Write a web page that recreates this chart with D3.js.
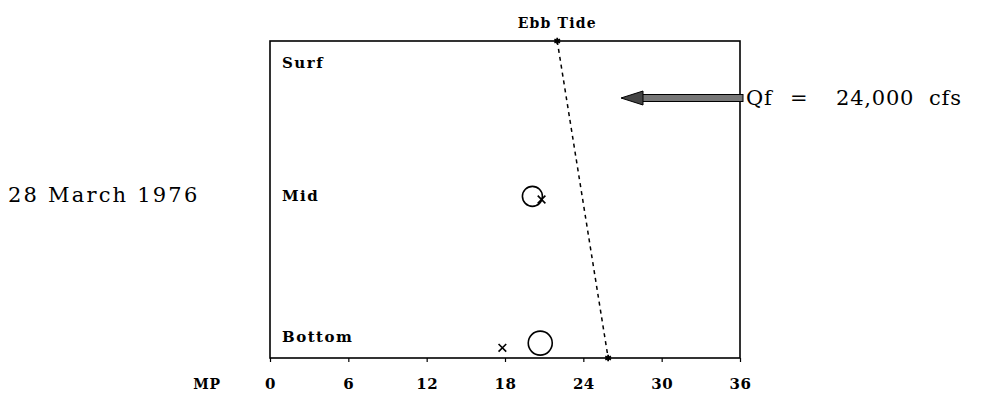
<!DOCTYPE html>
<html><head><meta charset="utf-8">
<script src="https://cdn.jsdelivr.net/npm/d3@7"></script>
<style>body{margin:0;background:#fff}</style>
</head><body>
<svg id="c" width="982" height="395"></svg>
<script>
const xTicks = [0, 6, 12, 18, 24, 30, 36];
const depthLabels = ["Surf", "Mid", "Bottom"];
const depthPos = [0.07, 0.49, 0.935];
// observed points: circles and crosses (MP, relative depth)
const circleMP = [20.1, 20.7];
const circleDepth = [0.49, 0.953];
const crossMP = [20.8, 17.8];
const crossDepth = [0.50, 0.968];
// ebb tide front line (MP at surface, MP at bottom)
const ebbMP = [22.0, 25.9];
const ebbDepth = [0, 1];

const svg = d3.select("#c");
const x = d3.scaleLinear().domain([0, 36]).range([270, 740]);
const y = d3.scaleLinear().domain([0, 1]).range([41, 358]);
const serif = "'DejaVu Serif', 'Liberation Serif', serif";

// frame
svg.append("rect").attr("x", x(0)).attr("y", y(0)).attr("width", x(36) - x(0)).attr("height", y(1) - y(0))
  .attr("fill", "none").attr("stroke", "#000").attr("stroke-width", 1.6);

// x axis
const ax = svg.append("g").attr("transform", `translate(0,${y(1)})`)
  .call(d3.axisBottom(x).tickValues(xTicks).tickSize(4).tickPadding(16).tickFormat(d3.format("d")));
ax.select(".domain").remove();
ax.selectAll("line").attr("stroke", "#000").attr("stroke-width", 1.2);
ax.selectAll("text").attr("font-family", serif).attr("font-weight", "bold").attr("font-size", 15)
  .attr("letter-spacing", 0.5).attr("fill", "#000");
svg.append("text").attr("x", 207).attr("y", 389).attr("text-anchor", "middle")
  .attr("font-family", serif).attr("font-weight", "bold").attr("font-size", 14).attr("letter-spacing", 0.8).text("MP");

// depth labels
svg.selectAll(".dl").data(depthLabels).join("text")
  .attr("x", x(0) + 12).attr("y", (d, i) => y(depthPos[i]) + 5)
  .attr("font-family", serif).attr("font-weight", "bold").attr("font-size", 15).attr("letter-spacing", 1.5).text(d => d);

// ebb tide line
svg.append("line").attr("x1", x(ebbMP[0])).attr("y1", y(ebbDepth[0])).attr("x2", x(ebbMP[1])).attr("y2", y(ebbDepth[1]))
  .attr("stroke", "#000").attr("stroke-width", 1.5).attr("stroke-dasharray", "4,4");
svg.selectAll(".ebbpt").data(ebbMP).join("path")
  .attr("d", d3.symbol(d3.symbolAsterisk, 30))
  .attr("transform", (d, i) => `translate(${x(d)},${y(ebbDepth[i])})`)
  .attr("stroke", "#000").attr("stroke-width", 1.8).attr("fill", "none");
svg.append("text").attr("x", x(ebbMP[0])).attr("y", 28).attr("text-anchor", "middle")
  .attr("font-family", serif).attr("font-weight", "bold").attr("font-size", 14).attr("letter-spacing", 1.2).text("Ebb Tide");

// circles
const radii = [10, 12];
svg.selectAll(".circ").data(circleMP).join("circle")
  .attr("cx", d => x(d)).attr("cy", (d, i) => y(circleDepth[i])).attr("r", (d, i) => radii[i])
  .attr("fill", "none").attr("stroke", "#000").attr("stroke-width", 1.6);
// crosses
svg.selectAll(".cross").data(crossMP).join("path")
  .attr("d", d3.symbol(d3.symbolTimes, 40))
  .attr("transform", (d, i) => `translate(${x(d)},${y(crossDepth[i])})`)
  .attr("fill", "none").attr("stroke", "#000").attr("stroke-width", 1.6);

// left title
svg.append("text").attr("x", 8).attr("y", 202).attr("font-family", serif).attr("font-size", 21)
  .attr("letter-spacing", 2.2).text("28 March 1976");

// Qf arrow
const ay = 98;
svg.append("rect").attr("x", 640).attr("y", ay - 3.5).attr("width", 103).attr("height", 7)
  .attr("fill", "#777").attr("stroke", "#000").attr("stroke-width", 1);
svg.append("path").attr("d", `M621,${ay} L643,${ay - 7} L643,${ay + 7} Z`).attr("fill", "#444").attr("stroke", "#000");
const qParts = ["Qf", "=", "24,000", "cfs"];
const qX = [746, 790, 836, 929];
svg.selectAll(".q").data(qParts).join("text")
  .attr("x", (d, i) => qX[i]).attr("y", ay + 7).attr("font-family", serif).attr("font-size", 21)
  .attr("letter-spacing", 0.8).text(d => d);
</script>
</body></html>
